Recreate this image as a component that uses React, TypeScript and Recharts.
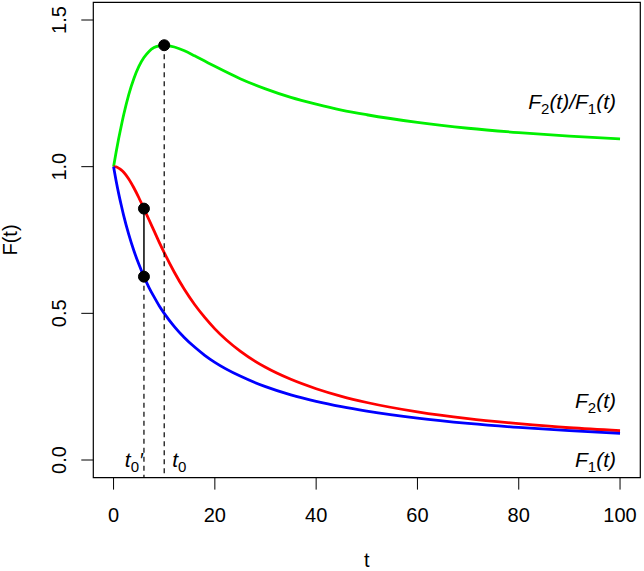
import React from 'react';
import { ComposedChart, Line, XAxis, YAxis, ReferenceArea, ReferenceLine, ReferenceDot } from 'recharts';

const T = [0, 0.5, 1, 1.5, 2, 3, 4, 5, 6, 7, 8, 9, 10, 12, 14, 16, 18, 20, 25, 30, 35, 40, 45, 50, 60, 70, 80, 90, 100];
const F1 = [1.000, 0.952, 0.909, 0.870, 0.833, 0.769, 0.714, 0.667, 0.625, 0.588, 0.556, 0.526, 0.500, 0.455, 0.417, 0.385, 0.357, 0.333, 0.286, 0.250, 0.222, 0.200, 0.182, 0.167, 0.143, 0.125, 0.111, 0.100, 0.091];
const F2 = [1.000, 0.999, 0.995, 0.989, 0.981, 0.958, 0.928, 0.894, 0.857, 0.819, 0.781, 0.743, 0.707, 0.640, 0.581, 0.530, 0.486, 0.447, 0.371, 0.316, 0.275, 0.243, 0.217, 0.196, 0.164, 0.141, 0.124, 0.110, 0.100];
const RATIO = [1.000, 1.049, 1.095, 1.137, 1.177, 1.246, 1.300, 1.342, 1.372, 1.393, 1.406, 1.412, 1.414, 1.408, 1.395, 1.378, 1.360, 1.342, 1.300, 1.265, 1.236, 1.213, 1.193, 1.177, 1.151, 1.131, 1.116, 1.104, 1.095];

const X_TICKS = [0, 20, 40, 60, 80, 100];
const Y_TICKS = [0, 0.5, 1, 1.5];
const X_DOMAIN = [-4, 104];
const Y_DOMAIN = [-0.06, 1.56];

// marked points
const T0 = 10;
const T0_PRIME = 6;
const PEAK_RATIO = 1.414;
const F2_AT_T0P = 0.857;
const F1_AT_T0P = 0.625;

// annotation anchors (data coords)
const LABEL_X = 100;
const RATIO_LABEL_Y = 1.22;
const F2_LABEL_Y = 0.2;
const F1_LABEL_Y = 0.0;
const T0_LABEL_Y = 0.0;

const data = T.map((t, i) => ({ t, f1: F1[i], f2: F2[i], ratio: RATIO[i] }));

const FONT = '"Liberation Sans", Arial, Helvetica, sans-serif';
const FS = 20;
const AFS = 21;
const SFS = 15;

const XTick = (props: any) => {
  const { x, y, payload } = props;
  return (
    <text x={x} y={y + 32} textAnchor="middle" fontSize={FS} fontFamily={FONT} fill="#000">
      {payload.value}
    </text>
  );
};

const YTick = (props: any) => {
  const { x, y, payload } = props;
  const bx = x - 15;
  return (
    <text x={bx} y={y} transform={`rotate(-90 ${bx} ${y})`} textAnchor="middle" fontSize={FS} fontFamily={FONT} fill="#000">
      {Number(payload.value).toFixed(1)}
    </text>
  );
};

const SubT = ({ s }: { s: string }) => (
  <tspan dy={5} fontSize={SFS} fontStyle="normal">{s}</tspan>
);

const makeLabel = (kind: string, anchor: 'start' | 'end', dx: number) => (p: any) => {
  const x = p.cx + dx;
  const y = p.cy + 7;
  let content: any = null;
  if (kind === 'ratio') {
    content = (
      <>
        <tspan>F</tspan>
        <SubT s="2" />
        <tspan dy={-5}>(t)/F</tspan>
        <SubT s="1" />
        <tspan dy={-5}>(t)</tspan>
      </>
    );
  } else if (kind === 'f2') {
    content = (<><tspan>F</tspan><SubT s="2" /><tspan dy={-5}>(t)</tspan></>);
  } else if (kind === 'f1') {
    content = (<><tspan>F</tspan><SubT s="1" /><tspan dy={-5}>(t)</tspan></>);
  } else if (kind === 't0p') {
    content = (<><tspan>t</tspan><SubT s="0" /><tspan dy={-5}>′</tspan></>);
  } else if (kind === 't0') {
    content = (<><tspan>t</tspan><SubT s="0" /></>);
  }
  return (
    <text x={x} y={y} textAnchor={anchor} fontSize={AFS} fontStyle="italic" fontFamily={FONT} fill="#000">
      {content}
    </text>
  );
};

const XLabel = (p: any) => {
  const vb = p.viewBox;
  return (
    <text x={vb.x + vb.width / 2} y={vb.y + 89} textAnchor="middle" fontSize={FS} fontFamily={FONT} fill="#000">
      t
    </text>
  );
};

const YLabel = (p: any) => {
  const vb = p.viewBox;
  const x = vb.x + 17;
  const y = vb.y + vb.height / 2;
  return (
    <text x={x} y={y} transform={`rotate(-90 ${x} ${y})`} textAnchor="middle" fontSize={FS} fontFamily={FONT} fill="#000">
      F(t)
    </text>
  );
};

export default function App() {
  return (
    <div style={{ position: 'absolute', left: 0, top: 0, width: 644, height: 571, background: '#fff' }}>
      <ComposedChart width={644} height={571} data={data} margin={{ top: 2.4, right: 3.7, left: 0, bottom: 0 }}>
        <XAxis
          dataKey="t"
          type="number"
          domain={X_DOMAIN}
          ticks={X_TICKS}
          allowDataOverflow
          axisLine={false}
          tickLine={{ stroke: '#000', strokeWidth: 1 }}
          tickSize={12}
          tickMargin={0}
          height={93.4}
          tick={<XTick />}
          interval={0}
          label={<XLabel />}
        />
        <YAxis
          type="number"
          domain={Y_DOMAIN}
          ticks={Y_TICKS}
          allowDataOverflow
          axisLine={false}
          tickLine={{ stroke: '#000', strokeWidth: 1 }}
          tickSize={12}
          tickMargin={0}
          width={93.3}
          tick={<YTick />}
          interval={0}
          label={<YLabel />}
        />
        <ReferenceArea x1={X_DOMAIN[0]} x2={X_DOMAIN[1]} y1={Y_DOMAIN[0]} y2={Y_DOMAIN[1]} fill="none" stroke="#000" strokeWidth={1.2} ifOverflow="visible" />
        <Line dataKey="ratio" type="monotone" stroke="#00f000" strokeWidth={2.8} dot={false} isAnimationActive={false} />
        <Line dataKey="f2" type="monotone" stroke="#ff0000" strokeWidth={2.8} dot={false} isAnimationActive={false} />
        <Line dataKey="f1" type="monotone" stroke="#0000ff" strokeWidth={2.8} dot={false} isAnimationActive={false} />
        <ReferenceLine segment={[{ x: T0, y: PEAK_RATIO }, { x: T0, y: Y_DOMAIN[0] }]} stroke="#000" strokeWidth={1.2} strokeDasharray="5 4" ifOverflow="visible" />
        <ReferenceLine segment={[{ x: T0_PRIME, y: F1_AT_T0P }, { x: T0_PRIME, y: Y_DOMAIN[0] }]} stroke="#000" strokeWidth={1.2} strokeDasharray="5 4" ifOverflow="visible" />
        <ReferenceLine segment={[{ x: T0_PRIME, y: F1_AT_T0P }, { x: T0_PRIME, y: F2_AT_T0P }]} stroke="#000" strokeWidth={1.5} ifOverflow="visible" />
        <ReferenceDot x={T0} y={PEAK_RATIO} r={5.5} fill="#000" stroke="#000" ifOverflow="visible" />
        <ReferenceDot x={T0_PRIME} y={F2_AT_T0P} r={5.5} fill="#000" stroke="#000" ifOverflow="visible" />
        <ReferenceDot x={T0_PRIME} y={F1_AT_T0P} r={5.5} fill="#000" stroke="#000" ifOverflow="visible" />
        <ReferenceDot x={LABEL_X} y={RATIO_LABEL_Y} r={0} ifOverflow="visible" shape={makeLabel('ratio', 'end', -4)} />
        <ReferenceDot x={LABEL_X} y={F2_LABEL_Y} r={0} ifOverflow="visible" shape={makeLabel('f2', 'end', -4)} />
        <ReferenceDot x={LABEL_X} y={F1_LABEL_Y} r={0} ifOverflow="visible" shape={makeLabel('f1', 'end', -4)} />
        <ReferenceDot x={T0_PRIME} y={T0_LABEL_Y} r={0} ifOverflow="visible" shape={makeLabel('t0p', 'end', -1)} />
        <ReferenceDot x={T0} y={T0_LABEL_Y} r={0} ifOverflow="visible" shape={makeLabel('t0', 'start', 8)} />
      </ComposedChart>
    </div>
  );
}
